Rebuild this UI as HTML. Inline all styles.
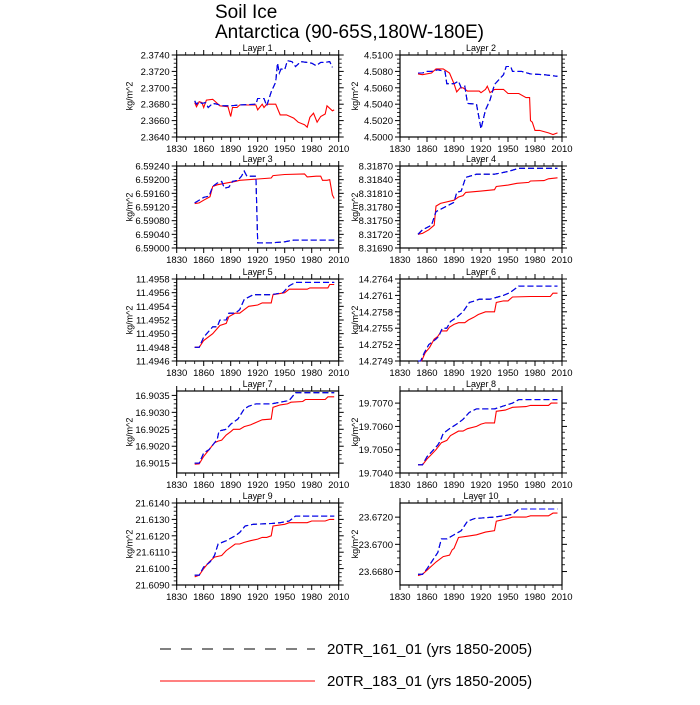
<!DOCTYPE html>
<html><head><meta charset="utf-8"><style>
body{margin:0;background:#fff;}
svg text{font-family:"Liberation Sans",sans-serif;fill:#000;}
</style></head><body>
<svg id="chart" width="700" height="700" viewBox="0 0 700 700" xmlns="http://www.w3.org/2000/svg">
<text x="215" y="18" font-size="19">Soil Ice</text>
<text x="215" y="38" font-size="19">Antarctica (90-65S,180W-180E)</text>
<g>
<line x1="160" y1="649" x2="315" y2="649" stroke="#000" stroke-width="1" stroke-dasharray="11,10"/>
<text x="327" y="654" font-size="15">20TR_161_01 (yrs 1850-2005)</text>
<line x1="160" y1="681" x2="315" y2="681" stroke="#f00" stroke-width="1"/>
<text x="327" y="686" font-size="15">20TR_183_01 (yrs 1850-2005)</text>
</g>
</svg>
<script>
const xTicks=[1830,1860,1890,1920,1950,1980,2010];
const yMin=[2.364,4.500,6.59000,8.31690,11.4946,14.2749,16.90121,19.7040,21.609,23.66701];
const yMax=[2.374,4.510,6.59240,8.31870,11.4958,14.2764,16.90363,19.70752,21.614,23.67304];
const yTicks=[
[2.364,2.366,2.368,2.370,2.372,2.374],
[4.500,4.502,4.504,4.506,4.508,4.510],
[6.59000,6.59040,6.59080,6.59120,6.59160,6.59200,6.59240],
[8.31690,8.31720,8.31750,8.31780,8.31810,8.31840,8.31870],
[11.4946,11.4948,11.4950,11.4952,11.4954,11.4956,11.4958],
[14.2749,14.2752,14.2755,14.2758,14.2761,14.2764],
[16.9015,16.9020,16.9025,16.9030,16.9035],
[19.7040,19.7050,19.7060,19.7070],
[21.6090,21.6100,21.6110,21.6120,21.6130,21.6140],
[23.6680,23.6700,23.6720]];
const yDec=[4,4,5,5,4,4,4,4,4,4];

const blue1=[[1850,2.3684],[1852,2.3680],[1855,2.3683],[1858,2.3681],[1862,2.3682],[1865,2.3676],[1870,2.3681],[1875,2.3680],[1880,2.3678],[1890,2.3678],[1900,2.3679],[1918,2.3680],[1920,2.3687],[1927,2.3687],[1930,2.3678],[1935,2.3695],[1940,2.3707],[1942,2.3730],[1944,2.3718],[1946,2.3723],[1950,2.3722],[1953,2.3733],[1958,2.3732],[1962,2.3726],[1968,2.3732],[1975,2.3731],[1980,2.3730],[1985,2.3727],[1990,2.3731],[1995,2.3731],[2000,2.3732],[2003,2.3725]];
const red1=[[1850,2.3682],[1852,2.3677],[1855,2.3683],[1858,2.3682],[1860,2.3676],[1863,2.3685],[1870,2.3686],[1872,2.3684],[1878,2.3678],[1887,2.3677],[1890,2.3665],[1892,2.3676],[1897,2.3676],[1900,2.3679],[1918,2.3679],[1920,2.3673],[1925,2.3680],[1927,2.3676],[1930,2.3680],[1940,2.3680],[1945,2.3667],[1952,2.3667],[1960,2.3663],[1965,2.3658],[1972,2.3655],[1975,2.3652],[1978,2.3664],[1982,2.3669],[1986,2.3658],[1990,2.3665],[1995,2.3668],[1997,2.3678],[2000,2.3675],[2003,2.3672],[2005,2.3673]];
const blue2=[[1850,4.5078],[1855,4.5078],[1860,4.5080],[1865,4.5080],[1872,4.5082],[1880,4.5080],[1882,4.5065],[1890,4.5065],[1895,4.5068],[1898,4.5060],[1902,4.5062],[1905,4.5041],[1915,4.5040],[1920,4.5010],[1925,4.5033],[1930,4.5045],[1935,4.5064],[1940,4.5070],[1945,4.5076],[1948,4.5086],[1953,4.5086],[1955,4.5080],[1965,4.5080],[1975,4.5077],[1990,4.5076],[2005,4.5074]];
const red2=[[1850,4.5077],[1855,4.5076],[1865,4.5078],[1870,4.5083],[1878,4.5083],[1885,4.5078],[1890,4.5065],[1893,4.5055],[1897,4.5060],[1900,4.5060],[1905,4.5056],[1918,4.5056],[1920,4.5054],[1925,4.5058],[1927,4.5062],[1930,4.5054],[1935,4.5058],[1945,4.5058],[1950,4.5053],[1962,4.5053],[1970,4.5048],[1974,4.5048],[1975,4.5020],[1977,4.5018],[1980,4.5008],[1985,4.5008],[1995,4.5005],[2000,4.5003],[2005,4.5005]];
const blue3=[[1850,6.59132],[1855,6.59140],[1860,6.59148],[1866,6.59152],[1870,6.59180],[1875,6.59190],[1880,6.59195],[1883,6.59175],[1888,6.59178],[1892,6.59195],[1898,6.59198],[1902,6.59210],[1905,6.59225],[1908,6.59210],[1918,6.59210],[1920,6.59015],[1935,6.59015],[1950,6.59018],[1960,6.59023],[2005,6.59023]];
const red3=[[1850,6.59130],[1855,6.59132],[1860,6.59140],[1867,6.59150],[1870,6.59180],[1875,6.59185],[1885,6.59190],[1895,6.59195],[1900,6.59198],[1920,6.59202],[1935,6.59205],[1937,6.59212],[1950,6.59215],[1972,6.59217],[1975,6.59208],[1985,6.59210],[1990,6.59210],[1992,6.59198],[1997,6.59198],[2000,6.59200],[2003,6.59155],[2005,6.59145]];
const blue4=[[1850,8.31720],[1855,8.31730],[1865,8.31740],[1870,8.31770],[1880,8.31780],[1890,8.31790],[1893,8.31812],[1898,8.31815],[1903,8.31845],[1915,8.31852],[1935,8.31852],[1950,8.31858],[1962,8.31865],[2005,8.31865]];
const red4=[[1850,8.31720],[1855,8.31722],[1862,8.31730],[1868,8.31740],[1870,8.31782],[1875,8.31788],[1890,8.31795],[1895,8.31802],[1900,8.31805],[1903,8.31812],[1920,8.31815],[1935,8.31818],[1937,8.31825],[1950,8.31828],[1960,8.31832],[1973,8.31834],[1975,8.31837],[1990,8.31838],[1995,8.31842],[2005,8.31844]];
const blue5=[[1850,11.4948],[1855,11.4948],[1860,11.49495],[1870,11.4951],[1875,11.4951],[1878,11.4952],[1885,11.4952],[1888,11.4953],[1895,11.4953],[1900,11.49535],[1905,11.4955],[1915,11.49557],[1935,11.49557],[1948,11.4956],[1955,11.4957],[1962,11.49575],[2005,11.49575]];
const red5=[[1850,11.4948],[1855,11.4948],[1860,11.4949],[1870,11.4950],[1878,11.49512],[1885,11.49515],[1888,11.49525],[1895,11.4953],[1900,11.4953],[1905,11.49535],[1910,11.4954],[1920,11.49542],[1925,11.49545],[1935,11.49545],[1937,11.49557],[1950,11.4956],[1955,11.49565],[1975,11.49565],[1978,11.49567],[1998,11.49567],[2000,11.49572],[2005,11.49572]];
const blue6=[[1850,14.2749],[1853,14.2749],[1857,14.27505],[1862,14.2752],[1870,14.2753],[1873,14.27535],[1877,14.2755],[1882,14.2755],[1886,14.27562],[1893,14.2757],[1900,14.2758],[1907,14.27597],[1913,14.2760],[1918,14.27603],[1930,14.27603],[1945,14.2761],[1952,14.27615],[1962,14.27627],[2005,14.27627]];
const red6=[[1850,14.2749],[1854,14.2749],[1858,14.27505],[1863,14.27515],[1868,14.2753],[1872,14.27535],[1876,14.27545],[1882,14.27545],[1885,14.27552],[1890,14.27557],[1895,14.2756],[1902,14.2756],[1906,14.27565],[1912,14.2757],[1917,14.27575],[1925,14.2758],[1935,14.2758],[1937,14.27597],[1945,14.2760],[1950,14.2760],[1955,14.27607],[1975,14.27608],[1997,14.27608],[2000,14.27614],[2005,14.27614]];
const blue7=[[1850,16.9015],[1855,16.9015],[1860,16.9018],[1866,16.9019],[1872,16.9021],[1875,16.9022],[1877,16.90245],[1885,16.9025],[1890,16.90265],[1898,16.9028],[1905,16.9031],[1910,16.90318],[1918,16.90325],[1935,16.90325],[1945,16.9033],[1955,16.90335],[1962,16.90358],[2005,16.90358]];
const red7=[[1850,16.90147],[1855,16.90148],[1860,16.9017],[1866,16.9019],[1872,16.9021],[1876,16.90215],[1880,16.90218],[1885,16.90233],[1890,16.90243],[1893,16.9025],[1900,16.9025],[1905,16.90258],[1912,16.90263],[1918,16.9027],[1925,16.90278],[1935,16.9028],[1937,16.90315],[1945,16.90322],[1953,16.90325],[1957,16.9033],[1970,16.90332],[1973,16.90338],[1995,16.90338],[1998,16.90346],[2005,16.90346]];
const blue8=[[1850,19.70435],[1855,19.70435],[1860,19.7047],[1865,19.7049],[1872,19.7052],[1875,19.7054],[1878,19.7057],[1885,19.7059],[1893,19.7061],[1900,19.7063],[1907,19.7066],[1915,19.70675],[1935,19.70675],[1947,19.7069],[1955,19.7070],[1962,19.70715],[2005,19.70715]];
const red8=[[1850,19.70435],[1855,19.70435],[1860,19.7046],[1865,19.7048],[1870,19.7050],[1876,19.7053],[1882,19.7054],[1886,19.7056],[1895,19.7058],[1900,19.7058],[1905,19.7059],[1915,19.7060],[1920,19.7061],[1925,19.70615],[1935,19.70615],[1937,19.70665],[1947,19.7067],[1955,19.70682],[1970,19.70685],[1975,19.7069],[1995,19.7069],[1998,19.7070],[2005,19.7070]];
const blue9=[[1850,21.6096],[1855,21.6096],[1860,21.6101],[1867,21.6104],[1872,21.6108],[1876,21.6115],[1885,21.6117],[1895,21.6120],[1900,21.6122],[1906,21.6126],[1915,21.6127],[1935,21.61275],[1945,21.6128],[1955,21.6129],[1962,21.6132],[2005,21.6132]];
const red9=[[1850,21.6095],[1855,21.6096],[1860,21.6100],[1866,21.6104],[1872,21.6107],[1880,21.6108],[1885,21.6111],[1895,21.6115],[1900,21.6115],[1905,21.6116],[1912,21.6117],[1920,21.6118],[1925,21.6119],[1930,21.6119],[1935,21.6120],[1937,21.6126],[1950,21.6127],[1955,21.6128],[1975,21.6128],[1980,21.6129],[1995,21.6129],[2000,21.6130],[2005,21.6130]];
const blue10=[[1850,23.6678],[1855,23.6678],[1860,23.6682],[1866,23.6688],[1872,23.6694],[1876,23.6704],[1882,23.6704],[1890,23.6707],[1898,23.6710],[1905,23.6717],[1913,23.6719],[1935,23.6720],[1945,23.6721],[1955,23.6722],[1962,23.6726],[2005,23.6726]];
const red10=[[1850,23.6677],[1855,23.6678],[1860,23.6681],[1865,23.6684],[1870,23.6687],[1878,23.6691],[1885,23.6692],[1888,23.6696],[1890,23.6697],[1895,23.6705],[1905,23.6706],[1915,23.6707],[1925,23.6709],[1935,23.6710],[1937,23.6717],[1950,23.6719],[1955,23.6720],[1970,23.6720],[1975,23.6721],[1995,23.6721],[2000,23.6723],[2005,23.6723]];
const blueSeries=[blue1,blue2,blue3,blue4,blue5,blue6,blue7,blue8,blue9,blue10];
const blackSeries=[blue1,blue2,blue3,blue4,blue5,blue6,blue7,blue8,blue9,blue10];
const redSeries=[red1,red2,red3,red4,red5,red6,red7,red8,red9,red10];

const NS='http://www.w3.org/2000/svg';
const svg=document.getElementById('chart');
function mk(tag,attrs,parent){const e=document.createElementNS(NS,tag);for(const k in attrs)e.setAttribute(k,attrs[k]);parent.appendChild(e);return e;}
const colX=[176.7,400],rowY=[55,166,279,391,503],W=162,H=82;
for(let i=0;i<10;i++){
  const L=colX[i%2],T=rowY[Math.floor(i/2)];
  const g=mk('g',{},svg);
  
  
  const sx=v=>L+(v-1830)/(2010-1830)*W;
  const sy=v=>T+H-(v-yMin[i])/(yMax[i]-yMin[i])*H;
  const tt=mk('text',{x:L+W/2,y:T-4,'font-size':9,'text-anchor':'middle'},g);tt.textContent='Layer '+(i+1);
  
  
  const yl=mk('text',{'font-size':9,'text-anchor':'middle',transform:`translate(${L-(i%2?42:44)},${T+H/2}) rotate(-90)`},g);yl.textContent='kg/m^2';
  
  
  for(let k=0;k<xTicks.length;k++){const x=sx(xTicks[k]);
    mk('line',{x1:x,y1:T+H,x2:x,y2:T+H+5,stroke:'#000','stroke-width':1},g);
    mk('line',{x1:x,y1:T,x2:x,y2:T-5,stroke:'#000','stroke-width':1},g);
    const t=mk('text',{x:x,y:T+H+15,'font-size':9.5,'text-anchor':'middle'},g);t.textContent=xTicks[k];
    
    
    if(k<xTicks.length-1){for(let m=1;m<3;m++){const xm=sx(xTicks[k]+m*10);
      mk('line',{x1:xm,y1:T+H,x2:xm,y2:T+H+3,stroke:'#000','stroke-width':0.8},g);
      mk('line',{x1:xm,y1:T,x2:xm,y2:T-3,stroke:'#000','stroke-width':0.8},g);}}
  }
  const yt=yTicks[i];
  for(let k=0;k<yt.length;k++){const y=sy(yt[k]);
    mk('line',{x1:L,y1:y,x2:L-5,y2:y,stroke:'#000','stroke-width':1},g);
    mk('line',{x1:L+W,y1:y,x2:L+W+5,y2:y,stroke:'#000','stroke-width':1},g);
    const t=mk('text',{x:L-7,y:y+3.5,'font-size':9.5,'text-anchor':'end'},g);t.textContent=yt[k].toFixed(yDec[i]);
    
    
    if(k<yt.length-1){const st=(yt[k+1]-yt[k])/4;for(let m=1;m<4;m++){const ym=sy(yt[k]+m*st);
      mk('line',{x1:L,y1:ym,x2:L-3,y2:ym,stroke:'#000','stroke-width':0.8},g);
      mk('line',{x1:L+W,y1:ym,x2:L+W+3,y2:ym,stroke:'#000','stroke-width':0.8},g);}}
  }
  mk('rect',{x:L,y:T,width:W,height:H,fill:'none',stroke:'#000','stroke-width':1.2},g);
  const pts=a=>a.map(p=>sx(p[0]).toFixed(1)+','+sy(p[1]).toFixed(1)).join(' ');
  const pb=mk('polyline',{points:pts(blackSeries[i]),fill:'none',stroke:'#000','stroke-width':1.1,'stroke-dasharray':'6,3'},g);
  
  
  const pr=mk('polyline',{points:pts(redSeries[i]),fill:'none',stroke:'#f00','stroke-width':1.1},g);
  
  
  const pbl=mk('polyline',{points:pts(blueSeries[i]),fill:'none',stroke:'#00f','stroke-width':1.1,'stroke-dasharray':'6,3'},g);
  
  
}
</script>
</body></html>
